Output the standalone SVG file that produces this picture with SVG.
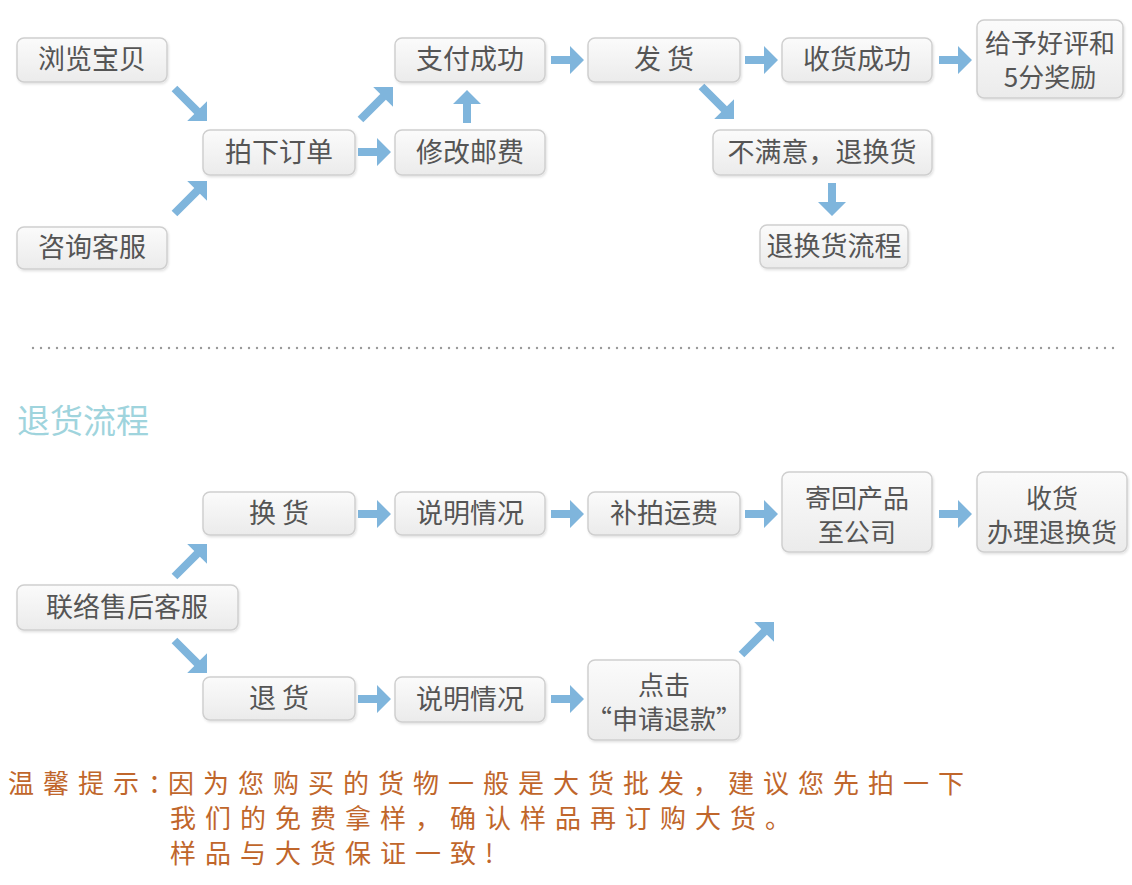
<svg xmlns="http://www.w3.org/2000/svg" xmlns:xlink="http://www.w3.org/1999/xlink" width="1132" height="885" viewBox="0 0 1132 885">
<style>
.box{fill:url(#bg);stroke:#cfcfcf;stroke-width:1.5;filter:url(#sh)}
.t{font-family:"Noto Sans CJK SC","Noto Sans",sans-serif;font-size:27px;fill:#555;text-anchor:middle}
.t2{font-size:26px}
.arr{fill:#7fb5dc}
.tip{font-family:"Noto Sans CJK SC","Noto Sans",sans-serif;font-size:26px;fill:#c0662b;letter-spacing:9px}
</style>
<defs>
<linearGradient id="bg" x1="0" y1="0" x2="0" y2="1">
<stop offset="0" stop-color="#fbfbfb"/>
<stop offset="1" stop-color="#ebebeb"/>
</linearGradient>
<filter id="sh" x="-10%" y="-10%" width="120%" height="130%">
<feDropShadow dx="1" dy="1.5" stdDeviation="1" flood-color="#000" flood-opacity="0.12"/>
</filter>
<polygon id="ah" points="-33,-4 -14,-4 -14,-14 0,0 -14,14 -14,4 -33,4"/>
<polygon id="ad" points="-46,-4 -14,-4 -14,-14 0,0 -14,14 -14,4 -46,4"/>
</defs>
<rect width="1132" height="885" fill="#fff"/>

<g id="connectors" class="arr">
<use xlink:href="#ad" transform="translate(207,121) rotate(45)"/>
<use xlink:href="#ad" transform="translate(207,181) rotate(-45)"/>
<use xlink:href="#ad" transform="translate(393,87) rotate(-45)"/>
<use xlink:href="#ah" transform="translate(391,152)"/>
<use xlink:href="#ah" transform="translate(467,90) rotate(-90)"/>
<use xlink:href="#ah" transform="translate(584,60)"/>
<use xlink:href="#ah" transform="translate(778,60)"/>
<use xlink:href="#ah" transform="translate(972,60)"/>
<use xlink:href="#ad" transform="translate(734,119) rotate(45)"/>
<use xlink:href="#ah" transform="translate(832,216) rotate(90)"/>
<use xlink:href="#ad" transform="translate(207,544) rotate(-45)"/>
<use xlink:href="#ad" transform="translate(207,673) rotate(45)"/>
<use xlink:href="#ah" transform="translate(391,514)"/>
<use xlink:href="#ah" transform="translate(584,514)"/>
<use xlink:href="#ah" transform="translate(778,514)"/>
<use xlink:href="#ah" transform="translate(972,514)"/>
<use xlink:href="#ah" transform="translate(391,699)"/>
<use xlink:href="#ah" transform="translate(584,699)"/>
<use xlink:href="#ad" transform="translate(774,622) rotate(-45)"/>
</g>

<g id="n-browse"><rect class="box" x="17" y="38" width="150" height="44" rx="7"/><text class="t" x="92" y="69">浏览宝贝</text></g>
<g id="n-consult"><rect class="box" x="17" y="227" width="150" height="42" rx="7"/><text class="t" x="92" y="257">咨询客服</text></g>
<g id="n-order"><rect class="box" x="203" y="130" width="152" height="45" rx="7"/><text class="t" x="279" y="162">拍下订单</text></g>
<g id="n-paid"><rect class="box" x="395" y="38" width="150" height="44" rx="7"/><text class="t" x="470" y="69">支付成功</text></g>
<g id="n-postage"><rect class="box" x="395" y="130" width="150" height="45" rx="7"/><text class="t" x="470" y="162">修改邮费</text></g>
<g id="n-ship"><rect class="box" x="588" y="38" width="152" height="44" rx="7"/><text class="t" x="664" y="69">发 货</text></g>
<g id="n-received"><rect class="box" x="782" y="38" width="150" height="44" rx="7"/><text class="t" x="857" y="69">收货成功</text></g>
<g id="n-review"><rect class="box" x="977" y="20" width="146" height="78" rx="7"/><text class="t t2" x="1050" y="53">给予好评和<tspan x="1050" dy="34">5分奖励</tspan></text></g>
<g id="n-unhappy"><rect class="box" x="713" y="130" width="219" height="45" rx="7"/><text class="t" x="822" y="162">不满意，退换货</text></g>
<g id="n-returnflow"><rect class="box" x="760" y="225" width="148" height="43" rx="7"/><text class="t" x="834" y="256">退换货流程</text></g>

<line x1="33" y1="348" x2="1120" y2="348" stroke="#9a9a9a" stroke-width="2.4" stroke-linecap="round" stroke-dasharray="0 8"/>
<text x="17" y="433" font-family="Noto Sans CJK SC,Noto Sans,sans-serif" font-size="33" fill="#9fd4dd">退货流程</text>

<g id="n-exchange"><rect class="box" x="203" y="492" width="152" height="43" rx="7"/><text class="t" x="279" y="523">换 货</text></g>
<g id="n-contact"><rect class="box" x="17" y="585" width="221" height="45" rx="7"/><text class="t" x="127" y="617">联络售后客服</text></g>
<g id="n-return"><rect class="box" x="203" y="677" width="152" height="43" rx="7"/><text class="t" x="279" y="708">退 货</text></g>
<g id="n-explain1"><rect class="box" x="395" y="492" width="150" height="43" rx="7"/><text class="t" x="470" y="523">说明情况</text></g>
<g id="n-shipfee"><rect class="box" x="588" y="492" width="152" height="43" rx="7"/><text class="t" x="664" y="523">补拍运费</text></g>
<g id="n-explain2"><rect class="box" x="395" y="677" width="150" height="45" rx="7"/><text class="t" x="470" y="709">说明情况</text></g>
<g id="n-refund"><rect class="box" x="588" y="660" width="152" height="80" rx="7"/><text class="t t2" x="664" y="695">点击<tspan x="664" dy="34">“申请退款”</tspan></text></g>
<g id="n-sendback"><rect class="box" x="782" y="472" width="150" height="80" rx="7"/><text class="t t2" x="857" y="508">寄回产品<tspan x="857" dy="34">至公司</tspan></text></g>
<g id="n-process"><rect class="box" x="977" y="472" width="150" height="80" rx="7"/><text class="t t2" x="1052" y="508">收货<tspan x="1052" dy="34">办理退换货</tspan></text></g>

<g id="tips">
<text class="tip" x="8" y="793" letter-spacing="5">温馨提示：</text>
<text class="tip" x="168" y="793">因为您购买的货物一般是大货批发，建议您先拍一下</text>
<text class="tip" x="170" y="828">我们的免费拿样，确认样品再订购大货。</text>
<text class="tip" x="170" y="863">样品与大货保证一致!</text>
</g>
</svg>
